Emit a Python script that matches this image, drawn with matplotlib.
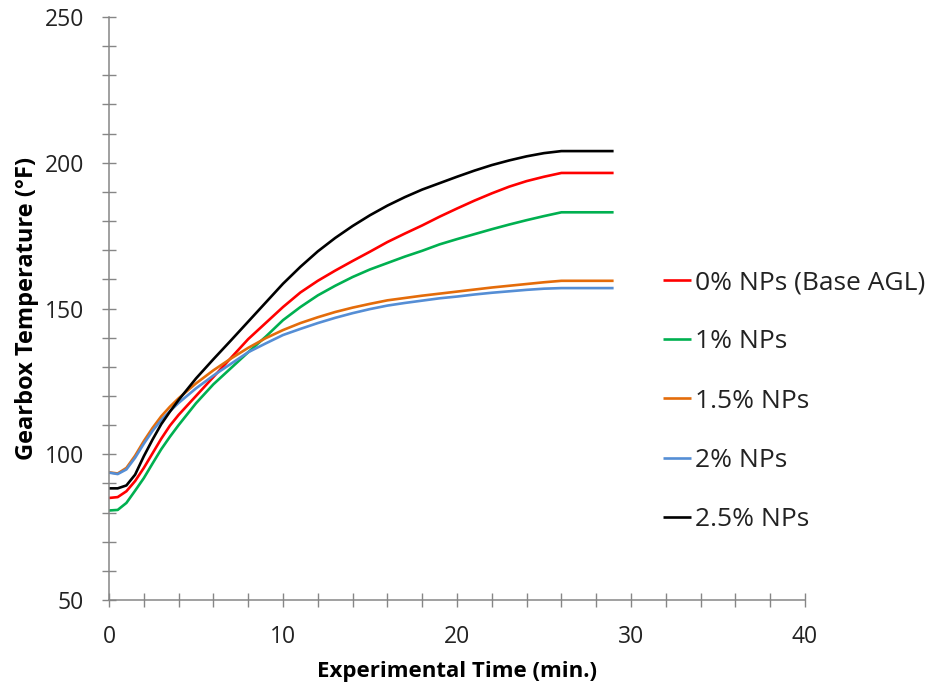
import matplotlib
matplotlib.use("Agg")
import matplotlib.pyplot as plt
from matplotlib.ticker import MultipleLocator

plt.rcParams['font.family'] = ['Open Sans', 'DejaVu Sans']

labels = ["0% NPs (Base AGL)", "1% NPs", "1.5% NPs", "2% NPs", "2.5% NPs"]
colors = ["#FF0000", "#00B050", "#E46C0A", "#558ED5", "#000000"]

t = [0, 0.5, 1, 1.5, 2, 2.5, 3, 3.5, 4, 5, 6, 7, 8, 9, 10, 11, 12, 13, 14, 15, 16, 17,
     18, 19, 20, 21, 22, 23, 24, 25, 26, 29]

temp_0 = [85.0, 85.3, 87.3, 90.8, 95.3, 100.3, 105.3, 109.8, 113.5, 120.0, 126.5, 133.0,
          139.5, 145.0, 150.5, 155.5, 159.5, 163.0, 166.3, 169.5, 172.8, 175.7,
          178.5, 181.5, 184.3, 187.0, 189.5, 191.8, 193.7, 195.2, 196.5, 196.5]
temp_1 = [80.7, 80.9, 83.3, 87.5, 91.8, 96.8, 101.7, 106.0, 110.0, 117.5, 124.0, 129.5,
          135.0, 140.3, 146.0, 150.5, 154.5, 157.8, 160.8, 163.4, 165.6, 167.8,
          169.8, 172.0, 173.8, 175.5, 177.2, 178.8, 180.3, 181.7, 183.0, 183.0]
temp_15 = [93.8, 93.4, 95.3, 99.5, 104.5, 109.0, 113.0, 116.3, 119.2, 124.3, 128.8, 132.8,
           136.5, 139.8, 142.6, 145.0, 147.0, 148.8, 150.3, 151.6, 152.8, 153.6,
           154.4, 155.1, 155.8, 156.5, 157.2, 157.8, 158.4, 159.0, 159.5, 159.5]
temp_2 = [93.7, 93.2, 94.8, 98.8, 103.6, 108.0, 111.7, 114.8, 117.6, 122.6, 127.0, 131.0,
          135.0, 138.0, 140.9, 143.0, 145.0, 146.8, 148.4, 149.8, 151.0, 151.9,
          152.7, 153.5, 154.1, 154.8, 155.4, 155.9, 156.4, 156.8, 157.0, 157.0]
temp_25 = [88.3, 88.3, 89.3, 93.0, 99.3, 105.0, 110.3, 114.6, 118.6, 126.0, 132.6, 139.0,
           145.5, 152.0, 158.5, 164.3, 169.6, 174.2, 178.3, 182.0, 185.3, 188.2,
           190.8, 193.0, 195.2, 197.3, 199.2, 200.8, 202.2, 203.3, 204.0, 204.0]

series = [temp_0, temp_1, temp_15, temp_2, temp_25]

fig = plt.figure(figsize=(9.3, 6.89), dpi=100)
ax = fig.add_axes([109/930, 1-600/689, (805-109)/930, (600-17)/689])

for ys, lab, c in zip(series, labels, colors):
    ax.plot(t, ys, color=c, lw=1.9, label=lab, solid_capstyle='butt', solid_joinstyle='round')

ax.set_xlim(0, 40)
ax.set_ylim(50, 250)
ax.xaxis.set_major_locator(MultipleLocator(10))
ax.xaxis.set_minor_locator(MultipleLocator(2))
ax.yaxis.set_major_locator(MultipleLocator(50))
ax.yaxis.set_minor_locator(MultipleLocator(10))

gray = "#868686"
for s in ['top', 'right']:
    ax.spines[s].set_visible(False)
for s in ['left', 'bottom']:
    ax.spines[s].set_color(gray)
    ax.spines[s].set_linewidth(1.1)

ax.tick_params(which='both', direction='inout', length=10, width=1.0, color=gray,
               labelsize=16.5, pad=13, labelcolor='#222222')

ax.set_xlabel("Experimental Time (min.)", fontsize=16, fontweight='bold', labelpad=9)
ax.set_ylabel("Gearbox Temperature (°F)", fontsize=17, fontweight='bold', labelpad=4)

leg = ax.legend(loc='upper left', bbox_to_anchor=(663/930, 1-270/689), bbox_transform=fig.transFigure,
                frameon=False, fontsize=19, handlelength=1.05, handletextpad=0.15,
                labelspacing=1.3, borderpad=0, borderaxespad=0)
for tx in leg.get_texts():
    tx.set_color('#222222')

fig.savefig("out.png", dpi=100)
